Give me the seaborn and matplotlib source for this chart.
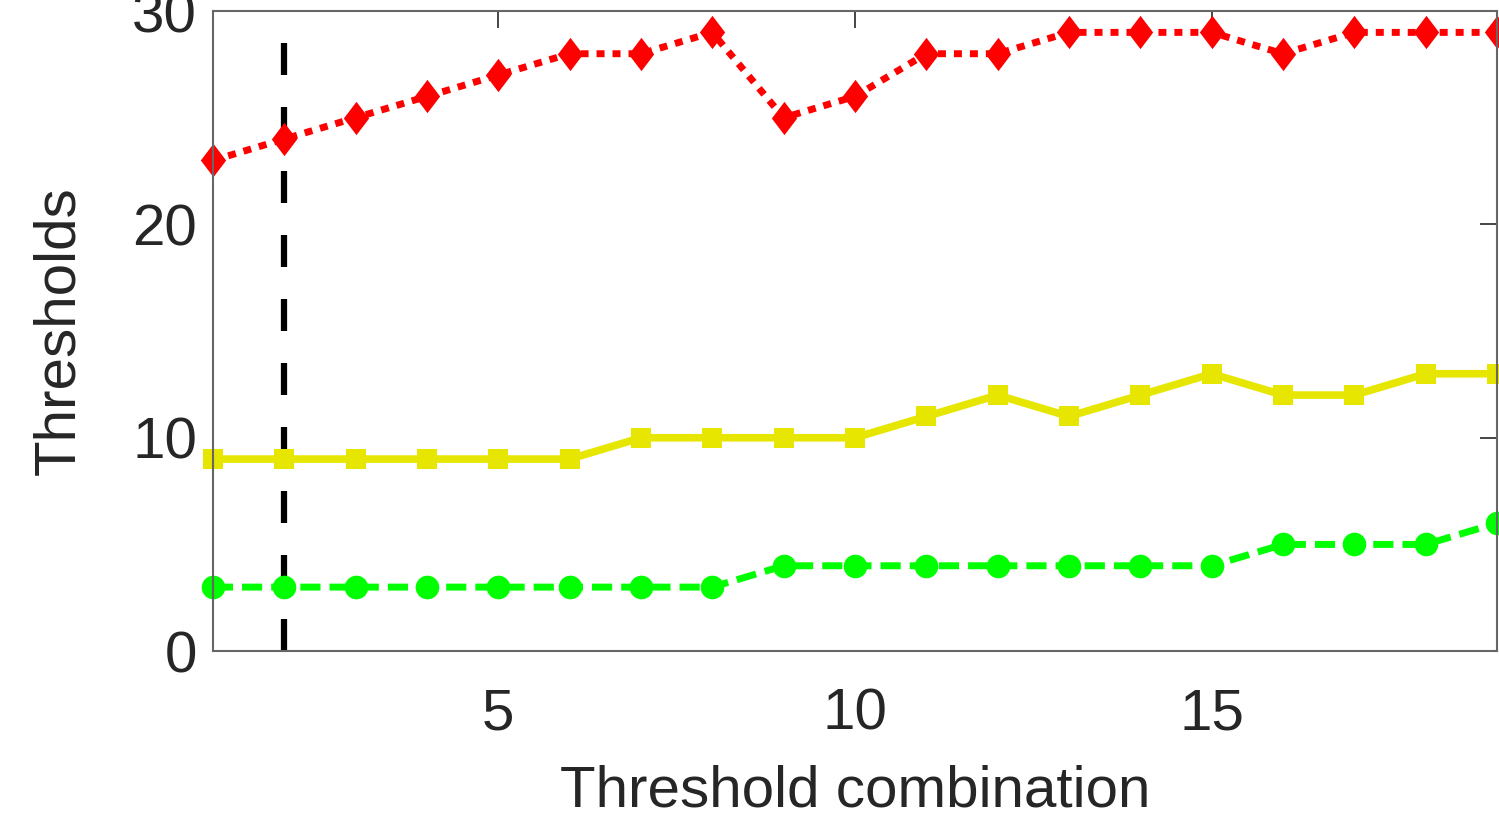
import matplotlib.pyplot as plt
import numpy as np
import pandas as pd
import seaborn as sns

sns.set_style("white")
plt.rcParams["font.family"] = ["Liberation Sans", "DejaVu Sans"]

combination = np.arange(1, 20)
upper = [23, 24, 25, 26, 27, 28, 28, 29, 25, 26, 28, 28, 29, 29, 29, 28, 29, 29, 29]
middle = [9, 9, 9, 9, 9, 9, 10, 10, 10, 10, 11, 12, 11, 12, 13, 12, 12, 13, 13]
lower = [3, 3, 3, 3, 3, 3, 3, 3, 4, 4, 4, 4, 4, 4, 4, 5, 5, 5, 6]
chosen = 2

df = pd.DataFrame({"combination": combination, "upper": upper,
                   "middle": middle, "lower": lower})

# MATLAB-like diamond: taller than wide
diamond = [(0, 1), (0.76, 0), (0, -1), (-0.76, 0), (0, 1)]

fig = plt.figure(figsize=(14.99, 8.19), dpi=100)
ax = fig.add_axes([0.142, 0.205, 0.8567, 0.7815])

ax.axvline(chosen, color="black", lw=4.5, linestyle=(0, (5.12, 5.12)), zorder=1)

sns.lineplot(data=df, x="combination", y="upper", ax=ax, color="#ff0000",
             lw=5, dashes=False, marker=diamond, markersize=24, markeredgewidth=0)
ax.lines[-1].set_dashes((1.15, 1.15))
sns.lineplot(data=df, x="combination", y="middle", ax=ax, color="#e6e600",
             lw=5.5, linestyle="-", marker="s", markersize=14, markeredgewidth=0)
sns.lineplot(data=df, x="combination", y="lower", ax=ax, color="#00ff00",
             lw=5, dashes=False, marker="o", markersize=17, markeredgewidth=0)
ax.lines[-1].set_dashes((2.9, 1.3))
for ln in ax.lines[1:]:
    ln.set_clip_on(False)

ax.set_xlim(1, 19)
ax.set_ylim(0, 30)
ax.set_xticks([5, 10, 15])
ax.set_yticks([0, 10, 20, 30])
ax.set_xlabel("Threshold combination", fontsize=42, color="#262626", labelpad=17)
ax.set_ylabel("Thresholds", fontsize=42, color="#262626", labelpad=33)
ax.tick_params(direction="in", length=12, width=1.2, colors="#262626",
               labelsize=42, top=True, right=True, pad=11.5)
ax.tick_params(axis="x", pad=26)
for s in ax.spines.values():
    s.set_visible(True)
    s.set_color("#666666")
    s.set_linewidth(1.5)

fig.savefig("out.png", dpi=100)
